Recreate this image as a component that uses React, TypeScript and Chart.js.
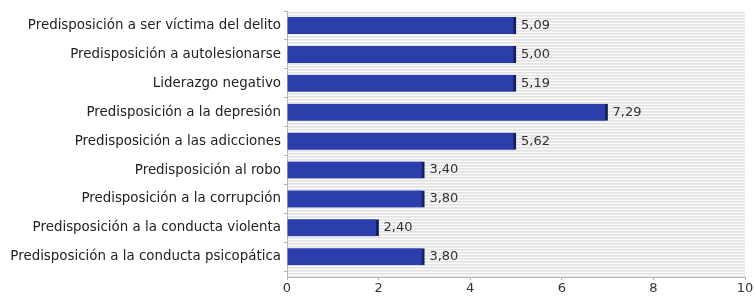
import { useEffect, useRef } from "react";
import { Chart, registerables } from "chart.js";

Chart.register(...registerables);

const categories = [
  "Predisposición a ser víctima del delito",
  "Predisposición a autolesionarse",
  "Liderazgo negativo",
  "Predisposición a la depresión",
  "Predisposición a las adicciones",
  "Predisposición al robo",
  "Predisposición a la corrupción",
  "Predisposición a la conducta violenta",
  "Predisposición a la conducta psicopática",
];
// lengths of the bars as drawn in the picture
const barLengths = [5, 5, 5, 7, 5, 3, 3, 2, 3];
// values printed next to the bars
const valueLabels = ["5,09", "5,00", "5,19", "7,29", "5,62", "3,40", "3,80", "2,40", "3,80"];
const xTicks = [0, 2, 4, 6, 8, 10];

const FONT = "'DejaVu Sans', sans-serif";

const stripePlugin = {
  id: "stripes",
  beforeDraw(chart: any) {
    const { ctx, chartArea } = chart;
    const pc = document.createElement("canvas");
    pc.width = 4;
    pc.height = 3;
    const p = pc.getContext("2d")!;
    p.fillStyle = "#fafafa";
    p.fillRect(0, 0, 4, 3);
    p.fillStyle = "#e2e2e2";
    p.fillRect(0, 0, 4, 1);
    p.fillStyle = "#ececec";
    p.fillRect(0, 1, 4, 1);
    const pattern = ctx.createPattern(pc, "repeat");
    ctx.save();
    ctx.fillStyle = pattern;
    ctx.fillRect(chartArea.left, chartArea.top, chartArea.right - chartArea.left, chartArea.bottom - chartArea.top);
    ctx.restore();
  },
};

const valuePlugin = {
  id: "values",
  afterDatasetsDraw(chart: any) {
    const { ctx } = chart;
    const meta = chart.getDatasetMeta(0);
    ctx.save();
    ctx.font = `13px ${FONT}`;
    ctx.fillStyle = "#333333";
    ctx.textAlign = "left";
    ctx.textBaseline = "middle";
    meta.data.forEach((el: any, i: number) => {
      ctx.fillText(valueLabels[i], el.x + 5, el.y);
    });
    ctx.restore();
  },
};

export default function App() {
  const ref = useRef<HTMLCanvasElement>(null);
  useEffect(() => {
    if (!ref.current) return;
    const chart = new Chart(ref.current, {
      type: "bar",
      data: {
        datasets: [
          {
            data: barLengths.map((v, i) => ({ x: v, y: i })),
            backgroundColor: "#2b3eac",
            borderColor: "#14205e",
            borderWidth: { left: 0, top: 0, bottom: 0, right: 3 },
            borderSkipped: false,
            barThickness: 17,
          } as any,
        ],
      },
      options: {
        indexAxis: "y",
        animation: false,
        responsive: false,
        maintainAspectRatio: false,
        layout: { padding: { top: 10, right: 10, bottom: 0, left: 0 } },
        plugins: { legend: { display: false }, tooltip: { enabled: false } },
        scales: {
          y: {
            type: "linear",
            bounds: "data",
            offset: false,
            reverse: true,
            min: -0.5,
            max: 8.7,
            afterBuildTicks: (s: any) => {
              s.ticks = categories.map((_, i) => ({ value: i }));
            },
            afterFit: (s: any) => {
              s.width = 287;
            },
            ticks: {
              autoSkip: false,
              padding: 3,
              color: "#222222",
              font: { family: FONT, size: 13.4 },
              callback: (v: any) => categories[v as number] ?? "",
            },
            grid: {
              offset: true,
              drawOnChartArea: false,
              drawTicks: true,
              tickLength: 3,
              color: "#b0b0b0",
            },
            border: { color: "#b8b8b8", width: 1 },
          },
          x: {
            type: "linear",
            bounds: "data",
            offset: false,
            min: 0,
            max: 10,
            afterBuildTicks: (s: any) => {
              s.ticks = xTicks.map((v) => ({ value: v }));
            },
            afterFit: (s: any) => {
              s.height = 20;
            },
            ticks: {
              padding: 1,
              color: "#333333",
              font: { family: FONT, size: 13 },
              maxRotation: 0,
            },
            grid: {
              drawOnChartArea: false,
              drawTicks: true,
              tickLength: 3,
              color: "#b0b0b0",
            },
            border: { color: "#b8b8b8", width: 1 },
          },
        },
      },
      plugins: [stripePlugin, valuePlugin],
    });
    return () => chart.destroy();
  }, []);
  return (
    <div style={{ position: "absolute", left: 0, top: 0, width: 755, height: 297, background: "#ffffff" }}>
      <canvas ref={ref} width={755} height={297} style={{ display: "block", width: 755, height: 297 }} />
    </div>
  );
}
